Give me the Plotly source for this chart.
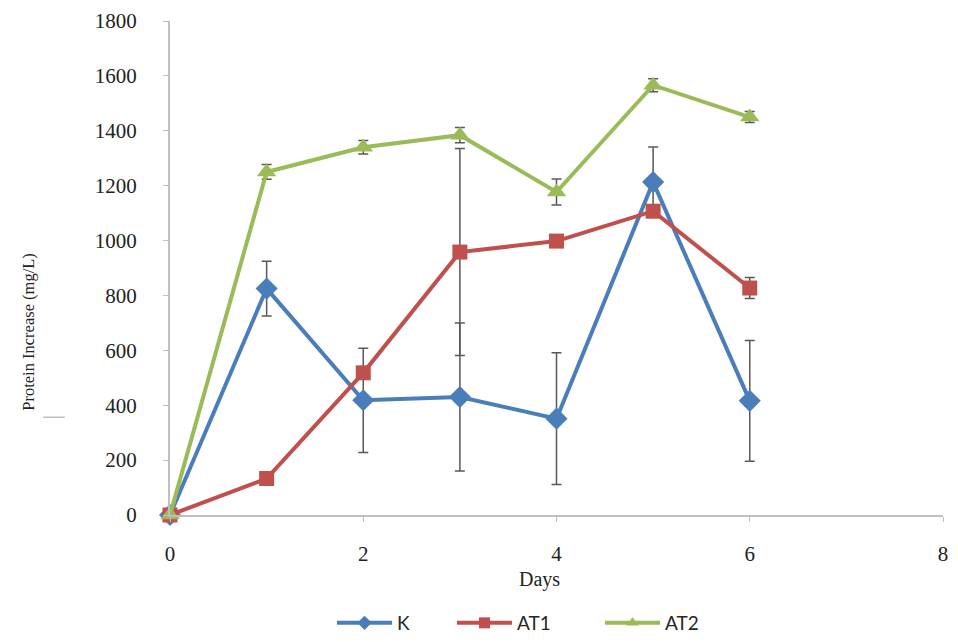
import plotly.graph_objects as go

days = [0, 1, 2, 3, 4, 5, 6]
k_vals = [0, 825, 418, 430, 351, 1213, 416]
k_err = [0, 100, 190, 270, 240, 128, 220]
at1_vals = [0, 133, 518, 958, 998, 1107, 827]
at1_err = [0, 0, 0, 377, 0, 0, 38]
at2_vals = [0, 1250, 1340, 1384, 1177, 1566, 1450]
at2_err = [0, 27, 25, 28, 47, 24, 20]

series = [
    ("K", k_vals, k_err, "#4A7EBB", "diamond", 17, "legend"),
    ("AT1", at1_vals, at1_err, "#C0504D", "square", 15, "legend2"),
    ("AT2", at2_vals, at2_err, "#9BBB59", "triangle-up", 17, "legend3"),
]

fig = go.Figure()
for name, vals, err, color, sym, size, leg in series:
    fig.add_trace(go.Scatter(
        x=days, y=vals, name=name, mode="lines+markers",
        line=dict(color=color, width=4),
        marker=dict(symbol=sym, size=size, color=color),
        error_y=dict(type="data", array=err, visible=True, color="#595959",
                     thickness=1.5, width=5),
        cliponaxis=False, showlegend=False,
    ))
    # legend-only entry with smaller marker (as in the reference legend)
    fig.add_trace(go.Scatter(
        x=[None], y=[None], name=name, mode="lines+markers",
        line=dict(color=color, width=4),
        marker=dict(symbol=sym, size=11, color=color),
        showlegend=True, legend=leg,
    ))

legend_font = dict(family="Lato", size=19, color="#262626")
leg_common = dict(orientation="h", xref="container", yref="container",
                  y=0.0296, yanchor="middle", xanchor="left",
                  font=legend_font, itemwidth=55, bgcolor="rgba(0,0,0,0)")

serif = "Liberation Serif"
fig.update_layout(
    width=958, height=642,
    margin=dict(l=170, r=15, t=21, b=127, autoexpand=False),
    paper_bgcolor="white", plot_bgcolor="white",
    showlegend=True,
    legend=dict(x=0.3466, **leg_common),
    legend2=dict(x=0.4718, **leg_common),
    legend3=dict(x=0.6263, **leg_common),
    xaxis=dict(range=[0, 8], dtick=2, tick0=0, showgrid=False, zeroline=False,
               showline=True, linecolor="#BFBFBF", linewidth=2,
               ticks="outside", ticklen=5, tickcolor="#BFBFBF", tickwidth=1,
               ticklabelstandoff=14, automargin=False,
               tickfont=dict(family=serif, size=21, color="#222")),
    yaxis=dict(range=[0, 1800], dtick=200, tick0=0, showgrid=False, zeroline=False,
               showline=True, linecolor="#BFBFBF", linewidth=2,
               ticks="outside", ticklen=5, tickcolor="#BFBFBF", tickwidth=1,
               ticklabelstandoff=22, automargin=False,
               tickfont=dict(family=serif, size=21, color="#222")),
    annotations=[
        dict(text="Days", xref="paper", yref="paper", x=0.478, y=-0.13,
             showarrow=False, xanchor="center", yanchor="middle",
             font=dict(family=serif, size=20, color="#222")),
        dict(text="Protein Increase (mg/L)", xref="paper", yref="paper", x=-0.183, y=0.37,
             showarrow=False, xanchor="center", yanchor="middle", textangle=-90,
             font=dict(family=serif, size=16.5, color="#222")),
    ],
    shapes=[
        dict(type="line", xref="paper", yref="paper", x0=-0.164, x1=-0.136,
             y0=0.198, y1=0.198, line=dict(color="#A0A0A0", width=1)),
    ],
)

fig.write_html("out.html")
